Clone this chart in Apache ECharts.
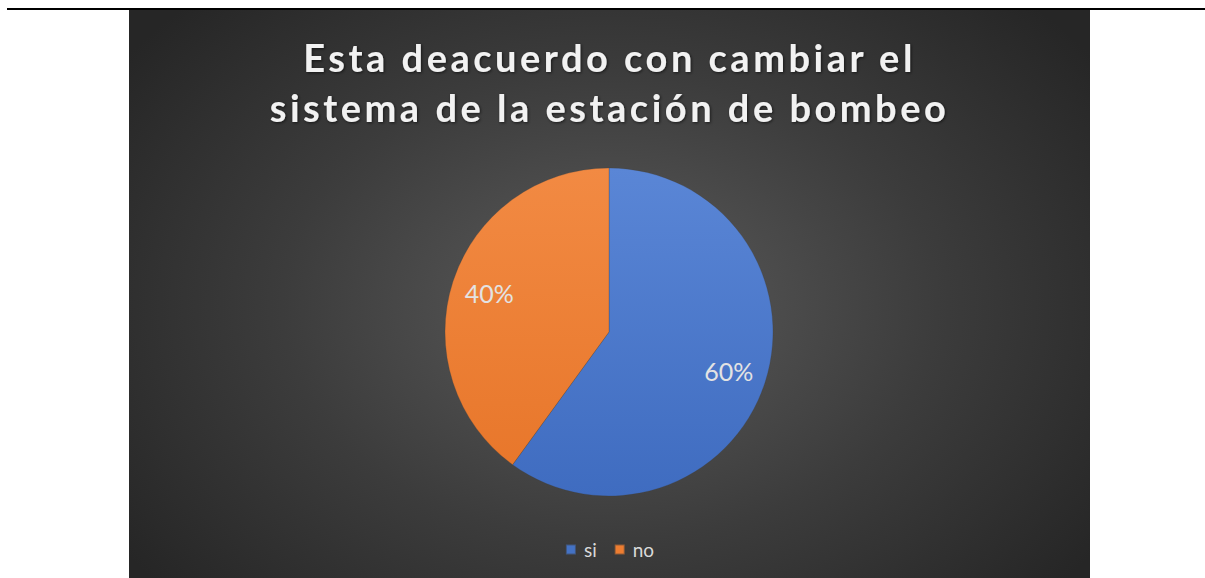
<!DOCTYPE html>
<html>
<head>
<meta charset="utf-8">
<script src="https://cdn.jsdelivr.net/npm/echarts@6/dist/echarts.min.js"></script>
<style>
html,body{margin:0;padding:0;background:#fff;width:1205px;height:578px;overflow:hidden;position:relative;}
#rule{position:absolute;left:7px;top:8px;width:1198px;height:2px;background:#000;}
#chart{position:absolute;left:129px;top:10px;width:961px;height:568px;
background:radial-gradient(ellipse 62% 75% at 50% 52%, #5c5c5c 0%, #3c3c3c 55%, #262626 100%);}
#chart svg text.ttl{letter-spacing:3.5px;}
</style>
</head>
<body>
<div id="rule"></div>
<div id="chart"></div>
<script>
const titleLines = ['Esta deacuerdo con cambiar el', 'sistema de la estación de bombeo'];
const categories = ['si', 'no'];
const values = [60, 40];
const colors = [
  {top: '#5a86d6', bottom: '#3f6cc0'},
  {top: '#f28a43', bottom: '#e8772b'}
];

const chart = echarts.init(document.getElementById('chart'), null, {renderer: 'svg'});
const dataMain = categories.map((c, i) => ({
  name: c, value: values[i],
  itemStyle: {color: new echarts.graphic.LinearGradient(0, 0, 0, 1, [
    {offset: 0, color: colors[i].top}, {offset: 1, color: colors[i].bottom}])}
}));
const legendColors = ['#4472c4', '#ed7d31'];
chart.setOption({
  backgroundColor: 'transparent',
  animation: false,
  title: {
    text: titleLines.join('\n'),
    left: 'center', top: 17,
    textStyle: {color: '#f2f2f2', fontFamily: 'Lato', fontWeight: 'bold', fontSize: 38, lineHeight: 50,
      textShadowColor: 'rgba(0,0,0,0.6)', textShadowBlur: 3, textShadowOffsetX: 1, textShadowOffsetY: 1}
  },
  legend: {
    data: categories.map((c, i) => ({name: c, itemStyle: {color: legendColors[i]}})),
    top: 525, left: 'center',
    icon: 'rect', itemWidth: 10, itemHeight: 10, itemGap: 17,
    textStyle: {color: '#d9d9d9', fontFamily: 'Lato', fontSize: 19, padding: [0, 0, 0, 3]}
  },
  series: [
    {
      type: 'pie', radius: [0, 164], center: [480, 322],
      startAngle: 90, clockwise: true,
      data: dataMain,
      label: {show: false}, labelLine: {show: false},
      itemStyle: {borderColor: 'rgba(60,60,60,0.5)', borderWidth: 0.5},
      emphasis: {disabled: true}
    },
    {
      type: 'pie', radius: [0, 246], center: [480, 322],
      startAngle: 90, clockwise: true, silent: true,
      data: categories.map((c, i) => ({name: c, value: values[i], itemStyle: {color: 'rgba(0,0,0,0)'}})),
      label: {show: true, position: 'inside', formatter: p => p.value + '%',
        color: '#e3e3e3', fontFamily: 'Lato', fontSize: 25},
      labelLine: {show: false},
      emphasis: {disabled: true}
    }
  ]
});
function spaceTitle() {
  document.querySelectorAll('#chart svg text').forEach(t => {
    if (titleLines.indexOf(t.textContent) >= 0) { t.classList.add('ttl'); t.style.letterSpacing = '3.5px'; }
  });
}
spaceTitle();
chart.on('finished', spaceTitle);
</script>
</body>
</html>
